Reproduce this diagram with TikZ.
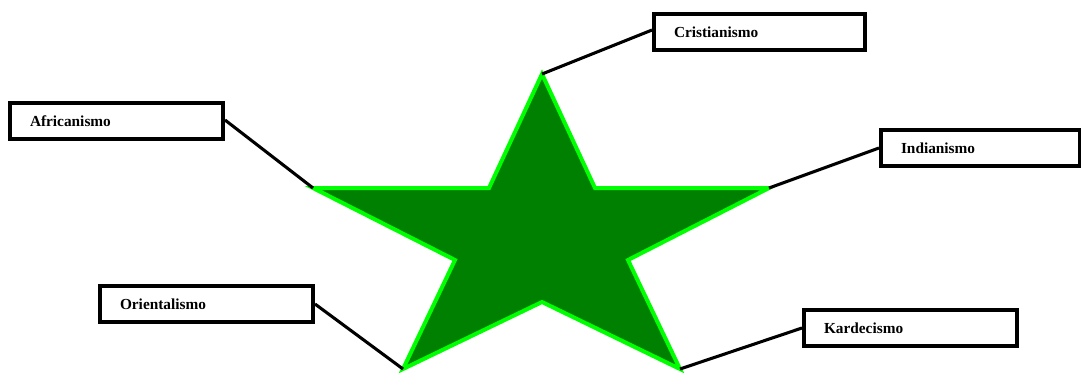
\documentclass[tikz,border=0pt]{standalone}
\usepackage{fontspec}
\setmainfont{Liberation Serif}
\definecolor{stargreen}{RGB}{0,128,0}
\definecolor{starlime}{RGB}{0,255,0}
\begin{document}
\begin{tikzpicture}[x=0.75pt,y=-0.75pt,
  lbox/.style={draw=black, line width=3pt, fill=white, rectangle, anchor=north west,
    minimum height=27pt, inner xsep=15pt, inner ysep=0pt, align=left,
    font=\fontsize{11.5}{13}\selectfont\bfseries},
  conn/.style={draw=black, line width=2.3pt}]
\useasboundingbox (0,0) rectangle (1081,372);
% star points
\coordinate (T) at (542,74);
\coordinate (ULi) at (489,188);
\coordinate (L) at (313,188);
\coordinate (LLi) at (455,260);
\coordinate (BL) at (403,369);
\coordinate (Bi) at (542,302);
\coordinate (BR) at (680,369);
\coordinate (LRi) at (628,260);
\coordinate (R) at (769,188);
\coordinate (URi) at (595,188);
\draw[fill=stargreen, draw=starlime, line width=3pt, line join=miter]
  (T) -- (ULi) -- (L) -- (LLi) -- (BL) -- (Bi) -- (BR) -- (LRi) -- (R) -- (URi) -- cycle;
% boxes
\node[lbox, minimum width=158.25pt, text width=128.25pt] (cri) at (652,12) {Cristianismo};
\node[lbox, minimum width=159.75pt, text width=129.75pt] (afr) at (8,101) {Africanismo};
\node[lbox, minimum width=149.25pt, text width=119.25pt] (ind) at (879,128) {Indianismo};
\node[lbox, minimum width=159.75pt, text width=129.75pt] (ori) at (98,284) {Orientalismo};
\node[lbox, minimum width=159.75pt, text width=129.75pt] (kar) at (802,308) {Kardecismo};
% connectors
\draw[conn] (cri.west) ++(0,-2) coordinate (c1) -- (T);
\draw[conn] (afr.east) ++(0,-1) coordinate (a1) -- (L);
\draw[conn] (ind.west) -- (R);
\draw[conn] (ori.east) -- (BL);
\draw[conn] (kar.west) -- (BR);
\end{tikzpicture}
\end{document}
